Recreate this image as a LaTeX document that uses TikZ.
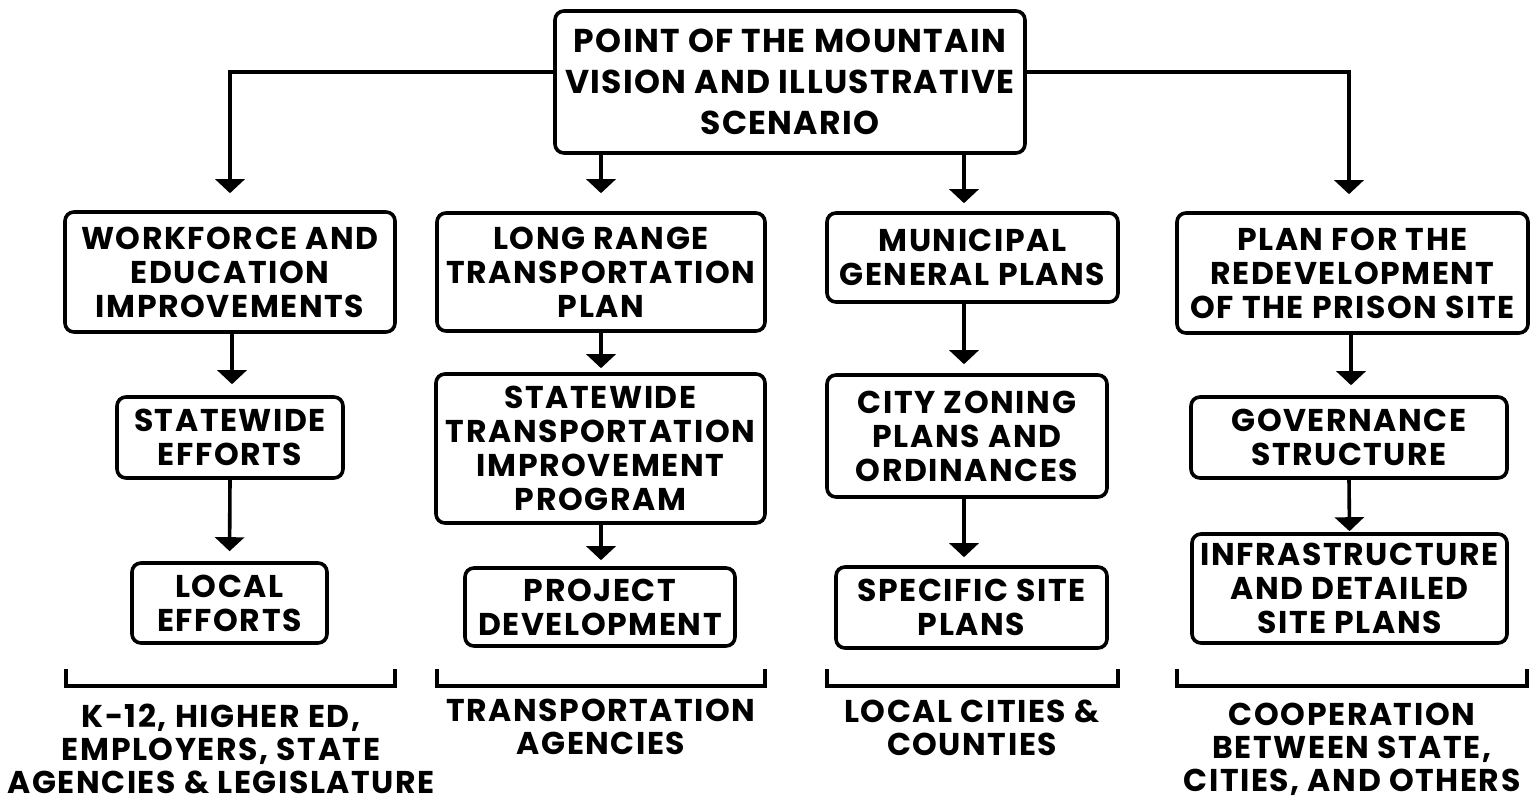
\documentclass[tikz,border=0pt]{standalone}
\usepackage{fontspec}
\setmainfont{Poppins}
\usetikzlibrary{arrows.meta,calc}
\begin{document}
\begin{tikzpicture}[x=1pt,y=-1pt,
  box/.style={draw, line width=3.6pt, rounded corners=9pt, align=center, inner sep=0pt,
    font=\bfseries\fontsize{31.5}{34}\selectfont\addfontfeatures{LetterSpace=5}},
  topbox/.style={box, font=\bfseries\fontsize{33}{41}\selectfont\addfontfeatures{LetterSpace=4}},
  arr/.style={line width=3.6pt, -{Triangle[width=29pt,length=14pt]}},
  brk/.style={line width=3.2pt},
  lbl/.style={align=center, inner sep=0pt, anchor=north, font=\bfseries\fontsize{31.5}{33}\selectfont\addfontfeatures{LetterSpace=5}}]
\useasboundingbox (0,0) rectangle (1539,801);
\fill[white] (0,0) rectangle (1539,801);

\node[topbox, minimum width=470pt, minimum height=142pt] (top) at (790,82)
  {POINT OF THE MOUNTAIN\\VISION AND ILLUSTRATIVE\\SCENARIO};

\node[box, minimum width=330pt, minimum height=120pt] (b1) at (230,272)
  {WORKFORCE AND\\EDUCATION\\IMPROVEMENTS};
\node[box, minimum width=328pt, minimum height=118pt] (b2) at (601,272)
  {LONG RANGE\\TRANSPORTATION\\PLAN};
\node[box, minimum width=291pt, minimum height=89pt] (b3) at (972.5,257.5)
  {MUNICIPAL\\GENERAL PLANS};
\node[box, minimum width=351pt, minimum height=120pt] (b4) at (1352.5,273)
  {PLAN FOR THE\\REDEVELOPMENT\\OF THE PRISON SITE};

\node[box, minimum width=226pt, minimum height=81pt] (c1) at (230,437.5)
  {STATEWIDE\\EFFORTS};
\node[box, minimum width=329pt, minimum height=149pt] (c2) at (600.5,448.5)
  {STATEWIDE\\TRANSPORTATION\\IMPROVEMENT\\PROGRAM};
\node[box, minimum width=280pt, minimum height=122pt] (c3) at (967,436)
  {CITY ZONING\\PLANS AND\\ORDINANCES};
\node[box, minimum width=316pt, minimum height=81pt] (c4) at (1349,437.5)
  {GOVERNANCE\\STRUCTURE};

\node[box, minimum width=195pt, minimum height=80pt] (d1) at (229.5,603)
  {LOCAL\\EFFORTS};
\node[box, minimum width=270pt, minimum height=78pt] (d2) at (600,607)
  {PROJECT\\DEVELOPMENT};
\node[box, minimum width=271pt, minimum height=81pt] (d3) at (971.5,607.5)
  {SPECIFIC SITE\\PLANS};
\node[box, minimum width=315pt, minimum height=109pt] (d4) at (1349.5,588.5)
  {INFRASTRUCTURE\\AND DETAILED\\SITE PLANS};

% connectors from the top box
\coordinate (hl) at (0,72);
\coordinate (xl) at (230,0);
\coordinate (xr) at (1349,0);
\draw[arr, shorten >=17pt] (top.west |- hl) -| (xl |- b1.north);
\draw[arr, shorten >=17pt] (top.east |- hl) -| (xr |- b4.north);
\draw[arr, shorten >=18pt] (top.south -| b2.north) ++(0,0) coordinate (t2) (t2) -- (b2.north);
\coordinate (x3) at (964,0);
\draw[arr, shorten >=8pt] (top.south -| x3) -- (b3.north -| x3);

% column connectors
\coordinate (x1) at (232,0);
\draw[arr, shorten >=11pt] (b1.south -| x1) -- (c1.north -| x1);
\draw[arr, shorten >=10pt] (c1.south) -- (d1.north);
\draw[arr, shorten >=4pt] (b2.south -| t2) -- (c2.north -| t2);
\draw[arr, shorten >=6pt] (c2.south -| t2) -- (d2.north -| t2);
\draw[arr, shorten >=9pt] (b3.south -| x3) -- (c3.north -| x3);
\draw[arr, shorten >=8pt] (c3.south -| x3) -- (d3.north -| x3);
\coordinate (x4) at (1351,0);
\draw[arr, shorten >=10pt] (b4.south -| x4) -- (c4.north -| x4);
\draw[arr, shorten >=1pt] (c4.south) -- (d4.north);

% brackets
\draw[brk] (66,669) -- (66,686) -- (395,686) -- (395,669);
\draw[brk] (437,669) -- (437,686) -- (765,686) -- (765,669);
\draw[brk] (827,669) -- (827,686) -- (1118,686) -- (1118,669);
\draw[brk] (1177,669) -- (1177,686) -- (1527,686) -- (1527,669);

\node[lbl] (l1) at (221,704) {K-12, HIGHER ED,\\EMPLOYERS, STATE\\AGENCIES \& LEGISLATURE};
\node[lbl] (l2) at (601,699) {TRANSPORTATION\\AGENCIES};
\node[lbl] (l3) at (972,700) {LOCAL CITIES \&\\COUNTIES};
\node[lbl] (l4) at (1352,703) {COOPERATION\\BETWEEN STATE,\\CITIES, AND OTHERS};
\end{tikzpicture}
\end{document}
